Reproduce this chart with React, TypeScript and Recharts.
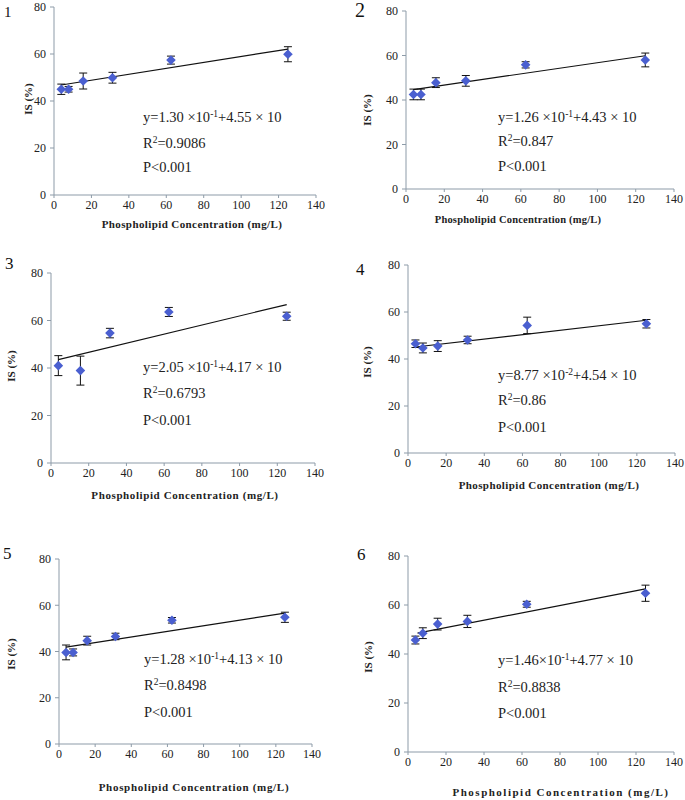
import React from "react";
import { ScatterChart, Scatter, XAxis, YAxis, ErrorBar } from "recharts";

// ---- data ----
const conc = [3.9, 7.8, 15.6, 31.25, 62.5, 125];
const conc3 = [3.9, 15.6, 31.25, 62.5, 125];
const xTicks = [0, 20, 40, 60, 80, 100, 120, 140];
const yTicks = [0, 20, 40, 60, 80];

const is1 = [45.0, 45.0, 48.5, 49.9, 57.4, 59.9];
const err1 = [2.2, 1.2, 3.4, 2.3, 1.7, 3.2];
const is2 = [42.5, 42.5, 47.8, 48.6, 55.8, 58.0];
const err2 = [2.4, 2.4, 2.2, 2.4, 1.4, 3.1];
const is3 = [41.0, 38.9, 54.7, 63.6, 61.8];
const err3 = [4.2, 6.1, 2.0, 1.9, 1.7];
const is4 = [46.5, 44.7, 45.5, 48.1, 54.3, 55.0];
const err4 = [1.6, 2.1, 2.3, 1.6, 3.5, 1.8];
const is5 = [39.6, 39.6, 44.7, 46.5, 53.5, 54.8];
const err5 = [3.2, 1.5, 1.9, 1.4, 1.2, 2.2];
const is6 = [45.7, 48.5, 52.2, 53.3, 60.3, 64.8];
const err6 = [1.6, 2.2, 2.4, 2.5, 1.2, 3.3];

// trend line end points (x start, y start, x end, y end)
const trendX = [3.9, 125];
const trend1 = [46.8, 62.1];
const trend2 = [44.7, 59.9];
const trend3 = [43.5, 66.7];
const trend4 = [45.1, 56.5];
const trend5 = [41.9, 56.6];
const trend6X = [5, 125];
const trend6 = [48.5, 66.6];

const panelNames = ["1", "2", "3", "4", "5", "6"];
const eqSlope = ["1.30 ×10", "1.26 ×10", "2.05 ×10", "8.77 ×10", "1.28 ×10", "1.46×10"];
const eqExp = ["-1", "-1", "-1", "-2", "-1", "-1"];
const eqIntercept = ["+4.55 × 10", "+4.43 × 10", "+4.17 × 10", "+4.54 × 10", "+4.13 × 10", "+4.77 × 10"];
const r2Values = ["0.9086", "0.847", "0.6793", "0.86", "0.8498", "0.8838"];
const pText = "P<0.001";
const xTitle = "Phospholipid Concentration (mg/L)";
const yTitle = "IS (%)";

const mk = (xs: number[], ys: number[], es?: number[]) =>
  xs.map((x, i) => (es ? { x, y: ys[i], e: es[i] } : { x, y: ys[i] }));

const SERIES = [
  { pts: mk(conc, is1, err1), trend: mk(trendX, trend1) },
  { pts: mk(conc, is2, err2), trend: mk(trendX, trend2) },
  { pts: mk(conc3, is3, err3), trend: mk(trendX, trend3) },
  { pts: mk(conc, is4, err4), trend: mk(trendX, trend4) },
  { pts: mk(conc, is5, err5), trend: mk(trendX, trend5) },
  { pts: mk(conc, is6, err6), trend: mk(trend6X, trend6) },
];

// ---- layout ----
const LAYOUT = [
  { axisX: 54, top: 7, right: 316, bottom: 195, titleCx: 192, titleCy: 224, titleFs: 11, titleLs: 0.4, ylX: 28, ylY: 99, eqX: 143, eqY: [117, 143, 167], numX: 4, numY: 12, numFs: 15 },
  { axisX: 406, top: 11, right: 674, bottom: 189, titleCx: 518, titleCy: 220, titleFs: 10.5, titleLs: 0.2, ylX: 367, ylY: 110, eqX: 498, eqY: [117, 141, 166], numX: 355, numY: 10, numFs: 20 },
  { axisX: 51, top: 273, right: 315, bottom: 463, titleCx: 185, titleCy: 495, titleFs: 11, titleLs: 0.6, ylX: 11, ylY: 366, eqX: 143, eqY: [367, 393, 420], numX: 5, numY: 264, numFs: 17 },
  { axisX: 408, top: 265, right: 675, bottom: 453, titleCx: 549, titleCy: 485, titleFs: 11, titleLs: 0.4, ylX: 367, ylY: 362, eqX: 498, eqY: [375, 400, 427], numX: 356, numY: 270, numFs: 17 },
  { axisX: 59, top: 559, right: 312, bottom: 744, titleCx: 194, titleCy: 787, titleFs: 11, titleLs: 0.7, ylX: 11, ylY: 654, eqX: 144, eqY: [659, 685, 712], numX: 3, numY: 554, numFs: 17 },
  { axisX: 408, top: 556, right: 674, bottom: 752, titleCx: 561, titleCy: 792, titleFs: 11, titleLs: 1.5, ylX: 368, ylY: 657, eqX: 498, eqY: [660, 687, 713], numX: 357, numY: 555, numFs: 17 },
];

const FONT = "'Liberation Serif', 'Times New Roman', serif";
const AXIS_COLOR = "#8d9ba8";
const MARKER = "#4a5fd0";

const Diamond = (props: any) => {
  const { cx, cy } = props;
  if (cx == null || cy == null) return <g />;
  const r = 4.8;
  return <path d={`M${cx},${cy - r}L${cx + r},${cy}L${cx},${cy + r}L${cx - r},${cy}Z`} fill={MARKER} />;
};

const Nothing = () => <g />;

const tickStyle = { fontFamily: FONT, fontSize: 12, fill: "#222" };

function Panel({ i }: { i: number }) {
  const L = LAYOUT[i];
  const S = SERIES[i];
  const padL = 40, padT = 10, padR = 12, padB = 25;
  const w = L.right - L.axisX + padL + padR;
  const h = L.bottom - L.top + padT + padB;
  const lineH = 18;
  return (
    <>
      <div style={{ position: "absolute", left: L.axisX - padL, top: L.top - padT }}>
        <ScatterChart width={w} height={h} margin={{ top: padT, right: padR, left: 0, bottom: 0 }}>
          <XAxis
            type="number"
            dataKey="x"
            domain={[0, 140]}
            ticks={xTicks}
            height={padB}
            stroke={AXIS_COLOR}
            tickSize={3}
            tickMargin={2}
            tick={tickStyle}
            allowDataOverflow
          />
          <YAxis
            type="number"
            dataKey="y"
            domain={[0, 80]}
            ticks={yTicks}
            width={padL}
            stroke={AXIS_COLOR}
            tickSize={4}
            tickMargin={4}
            tick={tickStyle}
            allowDataOverflow
          />
          <Scatter
            data={S.trend}
            line={{ stroke: "#111", strokeWidth: 1.2 }}
            shape={Nothing}
            isAnimationActive={false}
          />
          <Scatter data={S.pts} shape={Diamond} isAnimationActive={false}>
            <ErrorBar dataKey="e" direction="y" width={4} stroke="#111" strokeWidth={1} />
          </Scatter>
        </ScatterChart>
      </div>
      {/* panel number */}
      <div style={{ position: "absolute", left: L.numX, top: L.numY - L.numFs * 0.6, fontFamily: FONT, fontSize: L.numFs, lineHeight: `${L.numFs * 1.2}px`, color: "#111" }}>
        {panelNames[i]}
      </div>
      {/* x title */}
      <div style={{ position: "absolute", left: L.titleCx - 150, width: 300, top: L.titleCy - 8, textAlign: "center", fontFamily: FONT, fontWeight: "bold", fontSize: L.titleFs, letterSpacing: L.titleLs, lineHeight: "16px", color: "#222", whiteSpace: "nowrap" }}>
        {xTitle}
      </div>
      {/* y title */}
      <div style={{ position: "absolute", left: L.ylX - 40, top: L.ylY - 8, width: 80, textAlign: "center", fontFamily: FONT, fontWeight: "bold", fontSize: 11, lineHeight: "16px", color: "#222", transform: "rotate(-90deg)", whiteSpace: "nowrap" }}>
        {yTitle}
      </div>
      {/* equation block */}
      <div style={{ position: "absolute", left: L.eqX, top: L.eqY[0] - lineH / 2, fontFamily: FONT, fontSize: 14.5, lineHeight: `${lineH}px`, color: "#222", whiteSpace: "nowrap" }}>
        y={eqSlope[i]}
        <span style={{ fontSize: 9.5, position: "relative", top: -5 }}>{eqExp[i]}</span>
        {eqIntercept[i]}
      </div>
      <div style={{ position: "absolute", left: L.eqX, top: L.eqY[1] - lineH / 2, fontFamily: FONT, fontSize: 14.5, lineHeight: `${lineH}px`, color: "#222", whiteSpace: "nowrap" }}>
        R<span style={{ fontSize: 9.5, position: "relative", top: -5 }}>2</span>={r2Values[i]}
      </div>
      <div style={{ position: "absolute", left: L.eqX, top: L.eqY[2] - lineH / 2, fontFamily: FONT, fontSize: 14.5, lineHeight: `${lineH}px`, color: "#222", whiteSpace: "nowrap" }}>
        {pText}
      </div>
    </>
  );
}

export default function App() {
  return (
    <div style={{ position: "absolute", left: 0, top: 0, width: 685, height: 800, background: "#fff", overflow: "hidden" }}>
      {[0, 1, 2, 3, 4, 5].map((i) => (
        <Panel key={i} i={i} />
      ))}
    </div>
  );
}
